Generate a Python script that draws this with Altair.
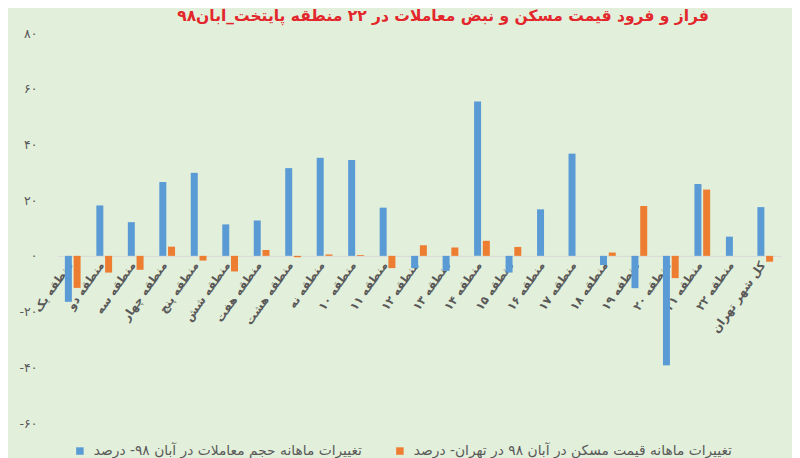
import altair as alt
import pandas as pd

categories = ["منطقه یک", "منطقه دو", "منطقه سه", "منطقه چهار", "منطقه پنج", "منطقه شش",
              "منطقه هفت", "منطقه هشت", "منطقه نه", "منطقه ۱۰", "منطقه ۱۱", "منطقه ۱۲",
              "منطقه ۱۳", "منطقه ۱۴", "منطقه ۱۵", "منطقه ۱۶", "منطقه ۱۷", "منطقه ۱۸",
              "منطقه ۱۹", "منطقه ۲۰", "منطقه ۲۱", "منطقه ۲۲", "کل شهر تهران"]
volume_change = [-16.5, 18.1, 12.1, 26.5, 29.8, 11.3, 12.7, 31.5, 35.2, 34.4, 17.3, -4.4,
                 -5.4, 55.4, -6.0, 16.7, 36.7, -3.3, -11.6, -39.3, 25.8, 6.9, 17.5]
price_change = [-11.5, -6.0, -5.0, 3.3, -1.7, -5.6, 2.1, -0.5, 0.5, 0.3, -4.4, 3.8,
                3.0, 5.4, 3.2, 0.0, 0.0, 1.2, 17.9, -8.0, 23.8, 0.0, -2.1]
series_names = ["تغییرات ماهانه حجم معاملات در آبان ۹۸- درصد",
                "تغییرات ماهانه قیمت مسکن در آبان ۹۸ در تهران- درصد"]
series_colors = ["#5B9BD5", "#ED7D31"]
y_ticks = [-60, -40, -20, 0, 20, 40, 60, 80]
title_text = "فراز و فرود قیمت مسکن و نبض معاملات در ۲۲ منطقه پایتخت_آبان۹۸"

rows = []
for c, v, p in zip(categories, volume_change, price_change):
    rows.append({"cat": c, "series": series_names[0], "value": v})
    rows.append({"cat": c, "series": series_names[1], "value": p})
df = pd.DataFrame(rows)

FONT = "DejaVu Sans"
label_expr = ("replace(replace(replace(replace(replace(replace(datum.label,"
              "/\u2212/g,'-'),/0/g,'\u06f0'),/2/g,'\u06f2'),/4/g,'\u06f4'),"
              "/6/g,'\u06f6'),/8/g,'\u06f8')")

chart = alt.Chart(df).mark_bar().encode(
    x=alt.X("cat:N", sort=categories,
            scale=alt.Scale(paddingInner=0.5, paddingOuter=0.25),
            axis=alt.Axis(title="", orient="bottom", offset=-167.1, ticks=False,
                          domainColor="#D9D9D9", domainWidth=1,
                          labelAngle=305, labelAlign="right", labelBaseline="middle",
                          labelPadding=7, labelOffset=-2, labelFont=FONT, labelFontSize=11.5,
                          labelFontWeight="bold", labelColor="#595959",
                          labelLimit=300, labelOverlap=False)),
    xOffset=alt.XOffset("series:N", sort=series_names,
                        scale=alt.Scale(paddingInner=0.2, paddingOuter=0)),
    y=alt.Y("value:Q", scale=alt.Scale(domain=[-60, 80], nice=False, zero=False),
            axis=alt.Axis(title="", values=y_ticks, grid=False, domain=False, ticks=False,
                          labelPadding=20, labelFont=FONT, labelFontSize=12.5,
                          labelColor="#595959", format="d", labelExpr=label_expr)),
    color=alt.Color("series:N", sort=series_names,
                    scale=alt.Scale(domain=series_names, range=series_colors),
                    legend=alt.Legend(title=None, orient="none", legendX=16, legendY=411,
                                      direction="horizontal", symbolType="square",
                                      symbolSize=56, symbolStrokeWidth=0,
                                      labelFont=FONT, labelFontSize=13.8,
                                      labelColor="#595959", labelLimit=600,
                                      columnPadding=31, labelOffset=7)),
).properties(
    width=724, height=390,
    title=alt.Title(title_text, font=FONT, fontSize=15.5, fontWeight="bold",
                    color="#E3262B", anchor="middle", dx=24, offset=3),
    padding={"left": 49, "top": 25, "right": 11, "bottom": 35},
    autosize=alt.AutoSizeParams(type="none"),
    background="#E2EFDA",
).configure_view(stroke="transparent")

chart.save("out.html", embed_options={"renderer": "svg", "actions": False})
